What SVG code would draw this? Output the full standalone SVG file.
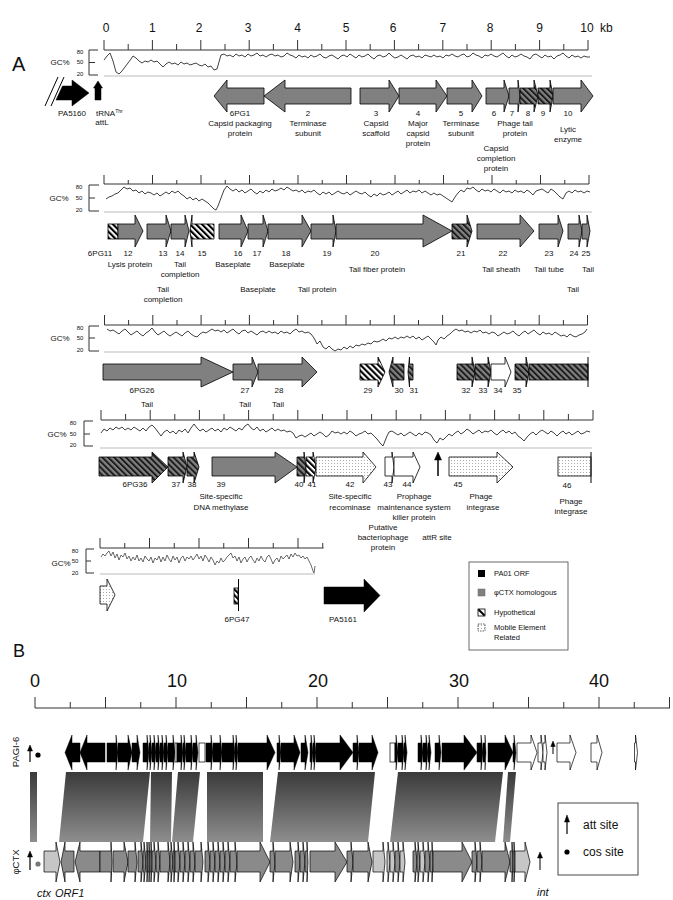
<svg xmlns="http://www.w3.org/2000/svg" width="673" height="900" viewBox="0 0 673 900">
<defs>
<pattern id="hb" patternUnits="userSpaceOnUse" width="4.2" height="4.2" patternTransform="rotate(-45)"><rect width="4.2" height="4.2" fill="#fff"/><rect width="2.1" height="4.2" fill="#000"/></pattern>
<pattern id="hg" patternUnits="userSpaceOnUse" width="4.2" height="4.2" patternTransform="rotate(-45)"><rect width="4.2" height="4.2" fill="#7f7f7f"/><rect width="1.9" height="4.2" fill="#1a1a1a"/></pattern>
<pattern id="dt" patternUnits="userSpaceOnUse" width="3" height="3"><rect width="3" height="3" fill="#fff"/><circle cx="1.5" cy="1.5" r="0.45" fill="#555"/></pattern>
<linearGradient id="syn" x1="0" y1="0" x2="0" y2="1"><stop offset="0" stop-color="#3a3a3a"/><stop offset="1" stop-color="#8e8e8e"/></linearGradient>
</defs>
<style>
text{font-family:"Liberation Sans",Arial,sans-serif;fill:#111}
.s8{font-size:8px;text-anchor:middle}
.s6{font-size:6px;text-anchor:middle}
.n12{font-size:12px;text-anchor:middle}
.n18{font-size:18px;text-anchor:middle}
.lg{font-size:7.5px}
.it{font-size:11px;font-style:italic}
.g{fill:#808080;stroke:#000;stroke-width:0.8}
.hg{fill:url(#hg);stroke:#000;stroke-width:0.8}
.hb{fill:url(#hb);stroke:#000;stroke-width:0.8}
.dt{fill:url(#dt);stroke:#000;stroke-width:0.8}
.w{fill:#fff;stroke:#000;stroke-width:0.8}
.k{fill:#000;stroke:#000;stroke-width:0.5}
.gb{fill:#8a8a8a;stroke:#000;stroke-width:0.7}
.lb{fill:#c6c6c6;stroke:#000;stroke-width:0.7}
.kb{fill:#000;stroke:#000;stroke-width:0.5}
.wb{fill:#fff;stroke:#000;stroke-width:0.7}
.rul{fill:none;stroke:#333;stroke-width:1}
.base{fill:none;stroke:#bbb;stroke-width:1}
.tr{fill:none;stroke:#111;stroke-width:0.8}
.ln{stroke:#000;stroke-width:1;fill:none}
</style>
<rect width="673" height="900" fill="#fff"/>

<text x="12" y="71" style="font-size:20px">A</text>

<!-- ROW 1 -->
<g id="row1-axis">
<path class="rul" d="M104,50H588 M104,40V50 M152.4,40V50 M200.8,40V50 M249.2,40V50 M297.6,40V50 M346,40V50 M394.4,40V50 M442.8,40V50 M491.2,40V50 M539.6,40V50 M588,40V50 M128.2,44V50 M176.6,44V50 M225,44V50 M273.4,44V50 M321.8,44V50 M370.2,44V50 M418.6,44V50 M467,44V50 M515.4,44V50 M563.8,44V50"/>
<text class="n12" x="106" y="32">0</text><text class="n12" x="152.4" y="32">1</text><text class="n12" x="199" y="32">2</text><text class="n12" x="248" y="32">3</text><text class="n12" x="297.6" y="32">4</text><text class="n12" x="346" y="32">5</text><text class="n12" x="393" y="32">6</text><text class="n12" x="442.8" y="32">7</text><text class="n12" x="490" y="32">8</text><text class="n12" x="539.6" y="32">9</text><text class="n12" x="587" y="32">10</text><text x="600" y="32" style="font-size:12px">kb</text>
<path class="rul" d="M98,50H89V75H98 M89,62.5H95"/>
<text class="s6" x="80" y="54">80</text><text class="s6" x="80" y="64">50</text><text class="s6" x="80" y="76">20</text>
<text class="s8" x="60" y="65">GC%</text>
<path class="base" d="M104,76H592"/>
<polyline class="tr" points="104,60 107,56 110,53 113,61 116,72 119,74 122,71 125,67 128,63 131,59 133,56 136,58 139,61 142,63 145,61 148,62 151,60 154,62 157,61 160,64 163,67 166,64 169,62 172,64 175,63 178,65 181,62 184,64 187,63 190,65 193,64 196,63 199,65 202,66 205,64 208,67 211,66 214,70 217,69 219,62 221,55 224,54 227,56 230,55 233,57 236,54 239,56 242,55 245,57 248,54 251,56 254,55 257,53 260,56 263,55 266,57 269,55 272,54 275,56 278,55 281,57 284,56 287,53 290,55 293,56 296,58 299,55 302,57 305,56 308,58 311,55 314,57 317,56 320,54 323,57 326,58 329,56 332,55 335,57 338,59 341,56 344,55 347,57 350,54 353,56 356,58 359,55 362,57 365,56 368,54 371,57 374,59 377,56 380,55 383,57 386,56 389,53 392,56 395,58 398,57 401,55 404,57 407,59 410,56 413,55 416,57 419,56 422,58 425,55 428,56 431,57 434,55 437,57 440,56 443,58 446,55 449,56 452,54 455,56 458,57 461,55 464,54 467,57 470,56 473,53 476,55 479,56 482,58 485,55 488,56 491,54 494,56 497,57 500,55 503,53 506,56 509,58 512,55 515,57 518,56 521,54 524,56 527,57 530,59 533,55 536,54 539,56 542,58 545,55 548,57 551,56 554,59 557,56 560,55 563,53 566,56 569,58 572,55 575,57 578,56 581,58 584,56 587,57 590,57"/>
</g>
<g id="PA5160">
<path class="ln" d="M45,106L58,77 M51,106L64,77"/>
<polygon class="k" points="56,100 62.5,86 72,86 72,80 89,93 72,106 72,100"/>
<text class="s8" x="72" y="116">PA5160</text>
</g>
<g id="tRNA">
<polygon class="k" points="93.5,88 98,81 102.5,88 101,88 101,100 95,100 95,88"/>
<text x="96" y="116" style="font-size:8px">tRNA<tspan dy="-3" style="font-size:5px">Thr</tspan></text>
<text class="s8" x="102" y="125">attL</text>
</g>
<g id="g6PG1"><polygon class="g" points="214,96 227,80 227,88 264,88 264,104 227,104 227,112"/><text class="s8" x="240" y="116">6PG1</text><text class="s8" x="240" y="126">Capsid packaging</text><text class="s8" x="240" y="136">protein</text></g>
<g id="g2"><polygon class="g" points="264,96 285,80 285,88 351,88 351,104 285,104 285,112"/><text class="s8" x="308" y="116">2</text><text class="s8" x="308" y="126">Terminase</text><text class="s8" x="308" y="136">subunit</text></g>
<g id="g3"><polygon class="g" points="360,88 389,88 389,80 399,96 389,112 389,104 360,104"/><text class="s8" x="376" y="116">3</text><text class="s8" x="376" y="126">Capsid</text><text class="s8" x="376" y="136">scaffold</text></g>
<g id="g4"><polygon class="g" points="399,88 436,88 436,80 447,96 436,112 436,104 399,104"/><text class="s8" x="418" y="116">4</text><text class="s8" x="418" y="126">Major</text><text class="s8" x="418" y="136">capsid</text><text class="s8" x="418" y="146">protein</text></g>
<g id="g5"><polygon class="g" points="447,88 472,88 472,80 482,96 472,112 472,104 447,104"/><text class="s8" x="461" y="116">5</text><text class="s8" x="461" y="126">Terminase</text><text class="s8" x="461" y="136">subunit</text></g>
<g id="g6"><polygon class="g" points="486,88 504,88 504,80 509,96 504,112 504,104 486,104"/><text class="s8" x="494" y="116">6</text><text class="s8" x="496" y="151">Capsid</text><text class="s8" x="496" y="161">completion</text><text class="s8" x="496" y="171">protein</text></g>
<g id="g7"><polygon class="g" points="509,88 518,88 518,80 520,96 518,112 518,104 509,104"/><text class="s8" x="512" y="116">7</text><text class="s8" x="515" y="126">Phage tail</text><text class="s8" x="515" y="136">protein</text></g>
<g id="g8"><polygon class="hg" points="520,88 534,88 534,80 538,96 534,112 534,104 520,104"/><text class="s8" x="528" y="116">8</text></g>
<g id="g9"><polygon class="hg" points="538,88 550,88 550,80 553,96 550,112 550,104 538,104"/><text class="s8" x="543" y="116">9</text></g>
<g id="g10"><polygon class="g" points="553,88 581,88 581,80 593,96 581,112 581,104 553,104"/><text class="s8" x="568" y="116">10</text><text class="s8" x="568" y="132">Lytic</text><text class="s8" x="568" y="142">enzyme</text></g>

<!-- ROW 2 -->
<g id="row2-axis">
<path class="rul" d="M104,184H589 M104,175V184 M152.5,175V184 M201,175V184 M249.5,175V184 M298,175V184 M346.5,175V184 M395,175V184 M443.5,175V184 M492,175V184 M540.5,175V184 M589,175V184 M128.25,180V184 M176.75,180V184 M225.25,180V184 M273.75,180V184 M322.25,180V184 M370.75,180V184 M419.25,180V184 M467.75,180V184 M516.25,180V184 M564.75,180V184"/>
<path class="rul" d="M99,185H89V211H99 M89,198H95"/>
<text class="s6" x="79" y="189">80</text><text class="s6" x="79" y="200">50</text><text class="s6" x="79" y="212">20</text>
<text class="s8" x="59" y="201">GC%</text>
<path class="base" d="M104,212H592"/>
<polyline class="tr" points="106,199 109,197 112,196 115,194 118,193 121,190 124,187 127,189 130,188 133,191 136,190 139,193 142,191 145,194 148,192 151,193 154,195 157,193 160,196 163,194 166,192 169,194 172,191 175,193 178,191 181,194 184,196 187,199 190,197 193,200 196,198 199,201 202,199 205,201 208,203 211,206 214,209 216,210 218,206 221,198 224,190 227,186 230,189 233,191 236,189 239,192 242,190 245,193 248,191 251,189 254,192 257,194 260,191 263,193 266,190 269,192 272,189 275,191 278,190 281,188 284,190 287,187 290,189 293,191 296,190 299,192 302,190 305,193 308,191 311,192 314,190 317,193 320,195 323,192 326,194 329,192 332,195 335,193 338,191 341,193 344,194 347,192 350,195 353,193 356,191 359,193 362,194 365,192 368,195 371,197 374,194 377,196 380,193 383,195 386,194 389,192 392,195 395,193 398,191 401,194 404,192 407,190 410,193 413,191 416,192 419,190 422,193 425,191 428,193 431,195 434,193 437,195 440,194 443,196 446,198 449,200 452,202 455,197 458,193 461,190 464,192 467,188 470,189 473,187 476,190 479,192 482,189 485,191 488,190 491,192 494,189 497,191 500,193 503,190 506,192 509,191 512,193 515,190 518,192 521,191 524,193 527,190 530,192 533,195 536,191 539,190 542,189 545,191 548,193 551,189 554,191 557,194 560,197 563,199 566,193 569,191 572,193 575,190 578,192 581,191 584,193 587,191 590,192"/>
</g>
<g id="g6PG11"><rect class="hb" x="108" y="224" width="10" height="15"/><text class="s8" x="100" y="256">6PG11</text></g>
<g id="g12"><polygon class="g" points="118,224 135,224 135,215 143,231 135,247 135,239 118,239"/><text class="s8" x="128" y="256">12</text><text class="s8" x="130" y="267">Lysis protein</text></g>
<g id="g13"><polygon class="g" points="147,224 166,224 166,215 171,231 166,247 166,239 147,239"/><text class="s8" x="163" y="256">13</text><text class="s8" x="163" y="292">Tail</text><text class="s8" x="163" y="302">completion</text></g>
<g id="g14"><polygon class="g" points="171,224 185,224 185,215 189,231 185,247 185,239 171,239"/><text class="s8" x="180" y="256">14</text><text class="s8" x="180" y="267">Tail</text><text class="s8" x="180" y="277">completion</text></g>
<g id="g15"><polygon class="hb" points="190,231 192,215 192,224 214,224 214,239 192,239 192,247"/><text class="s8" x="202" y="256">15</text></g>
<g id="g16"><polygon class="g" points="219,224 241,224 241,215 248,231 241,247 241,239 219,239"/><text class="s8" x="238" y="256">16</text><text class="s8" x="233" y="267">Baseplate</text></g>
<g id="g17"><polygon class="g" points="248,224 263,224 263,215 268,231 263,247 263,239 248,239"/><text class="s8" x="257" y="256">17</text><text class="s8" x="258" y="292">Baseplate</text></g>
<g id="g18"><polygon class="g" points="268,224 302,224 302,215 311,231 302,247 302,239 268,239"/><text class="s8" x="286" y="256">18</text><text class="s8" x="287" y="267">Baseplate</text></g>
<g id="g19"><polygon class="g" points="311,224 333,224 333,215 336,231 333,247 333,239 311,239"/><text class="s8" x="327" y="256">19</text><text class="s8" x="317" y="292">Tail protein</text></g>
<g id="g20"><polygon class="g" points="336,224 423,224 423,215 452,231 423,247 423,239 336,239"/><text class="s8" x="375" y="256">20</text><text class="s8" x="377" y="272">Tail fiber protein</text></g>
<g id="g21"><polygon class="hg" points="452,224 467,224 467,215 472,231 467,247 467,239 452,239"/><text class="s8" x="461" y="256">21</text></g>
<g id="g22"><polygon class="g" points="477,224 520,224 520,215 534,231 520,247 520,239 477,239"/><text class="s8" x="503" y="256">22</text><text class="s8" x="501" y="272">Tail sheath</text></g>
<g id="g23"><polygon class="g" points="539,224 558,224 558,215 563,231 558,247 558,239 539,239"/><text class="s8" x="549" y="256">23</text><text class="s8" x="549" y="272">Tail tube</text></g>
<g id="g24"><polygon class="g" points="568,224 579,224 579,215 582,231 579,247 579,239 568,239"/><text class="s8" x="574" y="256">24</text><text class="s8" x="573" y="292">Tail</text></g>
<g id="g25"><polygon class="g" points="582,224 587,224 587,215 590,231 587,247 587,239 582,239"/><text class="s8" x="586" y="256">25</text><text class="s8" x="588" y="272">Tail</text></g>

<!-- ROW 3 -->
<g id="row3-axis">
<path class="rul" d="M104.5,325H587.5 M104.5,315V325 M152.8,315V325 M201.1,315V325 M249.4,315V325 M297.7,315V325 M346,315V325 M394.3,315V325 M442.6,315V325 M490.9,315V325 M539.2,315V325 M587.5,315V325 M128.6,320V325 M177,320V325 M225.3,320V325 M273.6,320V325 M321.9,320V325 M370.2,320V325 M418.5,320V325 M466.8,320V325 M515.1,320V325 M563.4,320V325"/>
<path class="rul" d="M99,326H89V351H99 M89,338H95"/>
<text class="s6" x="80" y="330">80</text><text class="s6" x="80" y="340">50</text><text class="s6" x="80" y="352">20</text>
<text class="s8" x="60" y="341">GC%</text>
<path class="base" d="M104,352H590"/>
<polyline class="tr" points="107,329 110,331 113,330 116,332 119,334 122,331 125,329 128,332 131,335 134,333 137,331 140,334 143,336 146,333 149,331 152,328 155,332 158,335 161,333 164,331 167,334 170,336 173,334 176,332 179,334 182,336 185,333 188,331 191,334 194,336 197,337 200,334 203,332 206,333 209,331 212,329 215,331 218,330 221,332 224,330 227,333 230,331 233,329 236,332 239,334 242,331 245,330 248,333 251,331 254,333 257,335 260,332 263,331 266,333 269,331 272,333 275,332 278,334 281,331 284,333 287,332 290,334 293,331 296,329 299,332 302,331 305,333 308,332 311,334 314,338 317,344 320,341 323,347 326,349 329,346 332,349 335,351 338,349 341,350 344,347 347,349 350,346 353,348 356,345 359,346 362,344 365,345 368,343 371,344 374,341 377,342 380,341 383,339 386,341 389,338 392,339 395,337 398,339 401,337 404,338 407,336 410,338 413,336 416,339 419,337 422,340 425,338 428,336 431,339 434,342 436,345 438,340 441,337 444,339 447,336 450,334 453,331 456,329 459,331 462,330 465,332 468,331 471,333 474,331 477,332 480,330 483,333 486,332 489,334 492,332 495,333 498,336 501,334 504,332 507,334 510,333 513,331 516,334 519,336 522,333 525,331 528,334 531,332 534,330 537,333 540,335 543,332 546,334 549,333 552,335 555,332 558,334 561,336 564,335 567,337 570,334 573,336 576,337 579,335 582,334 585,332 587,329"/>
</g>
<g id="g6PG26"><polygon class="g" points="103,364 201,364 201,357 233,372 201,387 201,380 103,380"/><text class="s8" x="142" y="393">6PG26</text><text class="s8" x="147" y="407">Tail</text></g>
<g id="g27"><polygon class="g" points="233,364 252,364 252,357 258,372 252,387 252,380 233,380"/><text class="s8" x="245" y="393">27</text><text class="s8" x="245" y="407">Tail</text></g>
<g id="g28"><polygon class="g" points="258,364 302,364 302,357 317,372 302,387 302,380 258,380"/><text class="s8" x="279" y="393">28</text><text class="s8" x="278" y="407">Tail</text></g>
<g id="g29"><polygon class="hb" points="360,364 378,364 378,357 385,372 378,387 378,380 360,380"/><text class="s8" x="368" y="393">29</text></g>
<g id="g30"><polygon class="hg" points="389,372 393,357 393,364 404,364 404,380 393,380 393,387"/><text class="s8" x="399" y="393">30</text></g>
<g id="g31"><polygon class="hg" points="408,372 409.5,357 409.5,364 413,364 413,380 409.5,380 409.5,387"/><text class="s8" x="414" y="393">31</text></g>
<g id="g32"><polygon class="hg" points="457,364 472,364 472,357 475,372 472,387 472,380 457,380"/><text class="s8" x="466" y="393">32</text></g>
<g id="g33"><polygon class="hg" points="475,364 488,364 488,357 491,372 488,387 488,380 475,380"/><text class="s8" x="483" y="393">33</text></g>
<g id="g34"><polygon class="w" points="491,364 505,364 505,357 511,372 505,387 505,380 491,380"/><text class="s8" x="498" y="393">34</text></g>
<g id="g35"><polygon class="hg" points="515,364 526,364 526,357 529,372 526,387 526,380 515,380"/><rect class="hg" x="529" y="364" width="59" height="16"/><path class="ln" d="M588,357V387"/><text class="s8" x="517" y="393">35</text></g>

<!-- ROW 4 -->
<g id="row4-axis">
<path class="rul" d="M101,420H593 M101,410V420 M150.2,410V420 M199.4,410V420 M248.6,410V420 M297.8,410V420 M347,410V420 M396.2,410V420 M445.4,410V420 M494.6,410V420 M543.8,410V420 M593,410V420 M125.6,414V420 M174.8,414V420 M224,414V420 M273.2,414V420 M322.4,414V420 M371.6,414V420 M420.8,414V420 M470,414V420 M519.2,414V420 M568.4,414V420"/>
<path class="rul" d="M93,421H84V446H93 M84,434H90"/>
<text class="s6" x="73" y="425">80</text><text class="s6" x="73" y="436">50</text><text class="s6" x="73" y="447">20</text>
<text class="s8" x="57" y="437">GC%</text>
<path class="base" d="M100,448H592"/>
<polyline class="tr" points="101,433 104,429 107,431 110,428 113,430 116,427 119,429 122,427 125,430 128,428 131,430 134,427 137,429 140,431 143,428 146,431 149,427 152,425 155,428 158,432 161,436 164,432 167,430 170,433 173,431 176,434 179,430 182,432 185,429 188,433 191,428 194,424 197,428 200,431 203,429 206,432 209,430 212,428 215,431 218,429 221,432 224,428 227,430 230,427 233,429 236,431 239,428 242,430 245,426 248,424 251,428 254,430 257,427 260,431 263,429 266,432 269,430 272,428 275,431 278,429 281,431 284,430 287,432 290,431 293,433 296,438 299,436 302,435 305,437 308,435 311,433 314,436 317,434 320,432 323,434 326,437 329,435 332,431 335,433 338,432 341,434 344,432 347,434 350,431 353,433 356,436 359,434 362,433 365,431 368,434 371,433 374,436 377,439 380,443 383,446 385,441 387,436 389,432 392,431 395,433 398,435 401,433 404,436 407,434 410,432 413,434 416,436 419,433 422,435 425,432 428,433 431,435 434,440 437,443 440,438 443,440 446,437 449,434 452,436 455,433 458,431 461,434 464,432 467,429 470,431 473,434 476,432 479,430 482,433 485,431 488,432 491,430 494,433 497,435 500,432 503,430 506,433 509,431 512,434 515,432 518,436 521,438 524,441 527,437 530,434 533,432 536,435 539,432 542,430 545,432 548,434 551,431 554,433 557,436 560,433 563,431 566,434 569,432 572,435 575,433 578,431 581,434 584,433 587,431 590,432"/>
</g>
<g id="g6PG36"><polygon class="hg" points="99,457 152,457 152,452 168,467 152,483 152,476 99,476"/><text class="s8" x="135" y="487">6PG36</text></g>
<g id="g37"><polygon class="hg" points="168,457 183,457 183,452 187,467 183,483 183,476 168,476"/><text class="s8" x="176" y="487">37</text></g>
<g id="g38"><polygon class="hg" points="187,457 194,457 194,452 199,467 194,483 194,476 187,476"/><text class="s8" x="192" y="487">38</text></g>
<g id="g39"><polygon class="g" points="212,457 275,457 275,452 297,467 275,483 275,476 212,476"/><text class="s8" x="221" y="487">39</text><text class="s8" x="221" y="499">Site-specific</text><text class="s8" x="221" y="510">DNA methylase</text></g>
<g id="g40"><polygon class="hg" points="297,457 304,457 304,452 306,467 304,483 304,476 297,476"/><text class="s8" x="299" y="487">40</text></g>
<g id="g41"><polygon class="hb" points="306,457 313,457 313,452 316,467 313,483 313,476 306,476"/><text class="s8" x="312" y="487">41</text></g>
<g id="g42"><polygon class="dt" points="316,457 363,457 363,452 376,467 363,483 363,476 316,476"/><text class="s8" x="350" y="487">42</text><text class="s8" x="350" y="499">Site-specific</text><text class="s8" x="350" y="510">recominase</text></g>
<g id="g43"><polygon class="w" points="385,457 392,457 392,452 394,467 392,483 392,476 385,476"/><text class="s8" x="388" y="487">43</text><text class="s8" x="383" y="530">Putative</text><text class="s8" x="383" y="540">bacteriophage</text><text class="s8" x="383" y="550">protein</text></g>
<g id="g44"><polygon class="w" points="394,457 413,457 413,452 420,467 413,483 413,476 394,476"/><text class="s8" x="407" y="487">44</text><text class="s8" x="414" y="499">Prophage</text><text class="s8" x="414" y="510">maintenance system</text><text class="s8" x="414" y="520">killer protein</text></g>
<g id="attR"><path class="ln" d="M438,476V458" style="stroke-width:1.5"/><polygon class="k" points="434.5,460 438,452 441.5,460"/><text class="s8" x="437" y="540">attR site</text></g>
<g id="g45"><polygon class="dt" points="449,457 497,457 497,452 513,467 497,483 497,476 449,476"/><text class="s8" x="458" y="487">45</text><text class="s8" x="481" y="499">Phage</text><text class="s8" x="483" y="510">integrase</text></g>
<g id="g46"><rect class="dt" x="558" y="457" width="33" height="19"/><path class="ln" d="M591,452V483"/><text class="s8" x="567" y="488">46</text><text class="s8" x="571" y="504">Phage</text><text class="s8" x="571" y="514">integrase</text></g>

<!-- ROW 5 -->
<g id="row5-axis">
<path class="rul" d="M100,548H323.5 M100,538V548 M149.5,538V548 M199,538V548 M248.5,538V548 M298,538V548 M124.75,543V548 M174.25,543V548 M223.75,543V548 M273.25,543V548 M322.75,543V548"/>
<path class="rul" d="M94,549H86V573H94 M86,561H91"/>
<text class="s6" x="75" y="553">80</text><text class="s6" x="75" y="563">50</text><text class="s6" x="75" y="575">20</text>
<text class="s8" x="61" y="566">GC%</text>
<path class="base" d="M100,574H315"/>
<polyline class="tr" style="stroke:#444" points="101,557 103,554 105,556 107,553 109,551 111,556 113,552 115,558 117,554 119,560 121,555 123,557 125,553 127,559 129,556 131,561 133,557 135,560 137,555 139,561 141,558 143,562 145,556 147,559 149,561 151,557 153,563 155,558 157,560 159,556 161,562 163,557 165,561 167,555 169,559 171,562 173,556 175,560 177,557 179,563 181,558 183,556 185,561 187,557 189,559 191,556 193,560 195,557 197,554 199,559 201,556 203,561 205,555 207,558 209,562 211,557 213,560 215,565 217,561 219,563 221,558 223,562 225,560 227,557 229,555 231,553 233,558 235,556 237,561 239,557 241,563 243,559 245,557 247,562 249,558 251,556 253,560 255,563 257,558 259,561 261,556 263,560 265,562 267,557 269,555 271,559 273,564 275,560 277,558 279,562 281,556 283,559 285,557 287,555 289,559 291,554 293,557 295,553 297,556 299,555 301,558 303,556 305,559 307,557 309,561 311,565 313,571 314,573 315,566"/>
</g>
<g id="g47a"><polygon class="dt" points="100,586 107,586 107,579 115,595 107,611 107,604 100,604"/></g>
<g id="g6PG47"><rect class="hb" x="234" y="588" width="4" height="16"/><path class="ln" d="M238.5,579V611"/><text class="s8" x="237" y="622">6PG47</text></g>
<g id="PA5161"><polygon class="k" points="324,587 364,587 364,579 380,595.5 364,612 364,604 324,604"/><text class="s8" x="343" y="622">PA5161</text></g>

<g id="legendA">
<rect x="469" y="562" width="99" height="88" fill="#fff" stroke="#444" stroke-width="0.8"/>
<rect x="478" y="570" width="7" height="7" fill="#000"/><text class="lg" x="494" y="576">PA01 ORF</text>
<rect x="478" y="589" width="7" height="7" fill="#808080" stroke="#666" stroke-width="0.5"/><text class="lg" x="494" y="595">φCTX homologous</text>
<rect x="478" y="609" width="7" height="7" fill="#fff" stroke="#000" stroke-width="0.8"/><path d="M478.5,609.5L484.5,615.5" stroke="#000" stroke-width="2"/><text class="lg" x="494" y="615">Hypothetical</text>
<rect x="478" y="624" width="7" height="7" fill="url(#dt)" stroke="#000" stroke-width="0.6" stroke-dasharray="1.5,1"/><text class="lg" x="494" y="630">Mobile Element</text><text class="lg" x="494" y="640">Related</text>
</g>

<!-- PANEL B -->
<text x="13" y="657" style="font-size:18px">B</text>
<g id="B-axis">
<path class="rul" d="M35,708H670 M35,697V708 M70.25,702V708 M105.5,697V708 M140.75,702V708 M176,697V708 M211.25,702V708 M246.5,697V708 M281.75,702V708 M317,697V708 M352.25,702V708 M387.5,697V708 M422.75,702V708 M458,697V708 M493.25,702V708 M528.5,697V708 M563.75,702V708 M599,697V708 M634.25,702V708 M669.5,697V708"/>
<text class="n18" x="35" y="687">0</text><text class="n18" x="177" y="687">10</text><text class="n18" x="318" y="687">20</text><text class="n18" x="459" y="687">30</text><text class="n18" x="599" y="687">40</text>
</g>
<g id="PAGI-6-label">
<text x="18.5" y="752" transform="rotate(-90 18.5 752)" style="font-size:9.5px;text-anchor:middle">PAGI-6</text>
<path class="ln" d="M30,762V750" style="stroke-width:1.2"/><polygon class="k" points="27.5,751 30,745 32.5,751"/>
<circle cx="38" cy="755" r="2.6" fill="#000"/>
</g>
<g id="PAGI-6">
<polygon class="kb" points="65,752.5 72,735 72,743 80,743 80,762 72,762 72,770"/>
<polygon class="kb" points="80,752.5 87,735 87,743 105,743 105,762 87,762 87,770"/>
<polygon class="kb" points="107,743 116,743 116,735 118,752.5 116,770 116,762 107,762"/>
<polygon class="kb" points="118,743 128,743 128,735 132,752.5 128,770 128,762 118,762"/>
<polygon class="kb" points="132,743 137,743 137,735 140,752.5 137,770 137,762 132,762"/>
<polygon class="kb" points="143,743 147,743 147,735 149,752.5 147,770 147,762 143,762"/>
<polygon class="kb" points="149,743 150,743 150,735 152,752.5 150,770 150,762 149,762"/>
<polygon class="kb" points="152,743 154,743 154,735 156,752.5 154,770 154,762 152,762"/>
<polygon class="kb" points="156,743 158,743 158,735 160,752.5 158,770 158,762 156,762"/>
<polygon class="kb" points="160,743 162,743 162,735 164,752.5 162,770 162,762 160,762"/>
<polygon class="kb" points="164,743 166,743 166,735 168,752.5 166,770 166,762 164,762"/>
<polygon class="kb" points="168,743 173,743 173,735 175,752.5 173,770 173,762 168,762"/>
<rect class="wb" x="175" y="743" width="2" height="19"/>
<polygon class="kb" points="177,743 181,743 181,735 183,752.5 181,770 181,762 177,762"/>
<polygon class="kb" points="183,743 184,743 184,735 186,752.5 184,770 184,762 183,762"/>
<polygon class="kb" points="186,743 191,743 191,735 193,752.5 191,770 191,762 186,762"/>
<polygon class="kb" points="193,743 196,743 196,735 198,752.5 196,770 196,762 193,762"/>
<rect class="wb" x="199" y="743" width="6" height="19"/>
<polygon class="kb" points="206,743 211,743 211,735 213,752.5 211,770 211,762 206,762"/>
<polygon class="kb" points="213,743 220,743 220,735 222,752.5 220,770 220,762 213,762"/>
<polygon class="kb" points="222,743 233,743 233,735 235,752.5 233,770 233,762 222,762"/>
<polygon class="kb" points="235,743 236,743 236,735 238,752.5 236,770 236,762 235,762"/>
<polygon class="kb" points="238,743 267,743 267,735 275,752.5 267,770 267,762 238,762"/>
<polygon class="kb" points="277,743 279,743 279,735 281,752.5 279,770 279,762 277,762"/>
<polygon class="kb" points="281,743 294,743 294,735 300,752.5 294,770 294,762 281,762"/>
<polygon class="kb" points="301,743 305,743 305,735 308,752.5 305,770 305,762 301,762"/>
<polygon class="kb" points="310,743 311,743 311,735 313,752.5 311,770 311,762 310,762"/>
<polygon class="kb" points="313,743 314,743 314,735 316,752.5 314,770 314,762 313,762"/>
<polygon class="kb" points="316,743 340,743 340,735 353,752.5 340,770 340,762 316,762"/>
<polygon class="kb" points="353,743 357,743 357,735 359,752.5 357,770 357,762 353,762"/>
<polygon class="kb" points="359,743 372,743 372,735 378,752.5 372,770 372,762 359,762"/>
<rect class="wb" x="390" y="743" width="5" height="19"/>
<polygon class="kb" points="395,743 396,743 396,735 398,752.5 396,770 396,762 395,762"/>
<polygon class="kb" points="398,743 402,743 402,735 404,752.5 402,770 402,762 398,762"/>
<polygon class="kb" points="404,743 405,743 405,735 407,752.5 405,770 405,762 404,762"/>
<polygon class="kb" points="418,743 421,743 421,735 423,752.5 421,770 421,762 418,762"/>
<polygon class="kb" points="423,743 426,743 426,735 428,752.5 426,770 426,762 423,762"/>
<polygon class="kb" points="428,743 429,743 429,735 431,752.5 429,770 429,762 428,762"/>
<polygon class="kb" points="435,743 439,743 439,735 441,752.5 439,770 439,762 435,762"/>
<polygon class="kb" points="442,743 464,743 464,735 477,752.5 464,770 464,762 442,762"/>
<polygon class="kb" points="477,743 481,743 481,735 483,752.5 481,770 481,762 477,762"/>
<polygon class="kb" points="483,743 485,743 485,735 486,752.5 485,770 485,762 483,762"/>
<polygon class="kb" points="488,743 505,743 505,735 513,752.5 505,770 505,762 488,762"/>
<polygon class="kb" points="513,743 514,743 514,735 516,752.5 514,770 514,762 513,762"/>
<polygon class="wb" points="517,743 531,743 531,735 537,752.5 531,770 531,762 517,762"/>
<polygon class="wb" points="538,743 541,743 541,735 543,752.5 541,770 541,762 538,762"/>
<polygon class="wb" points="543,743 545,743 545,735 547,752.5 545,770 545,762 543,762"/>
<path class="ln" d="M553,754V745"/><polygon class="k" points="550.8,746.5 553,741 555.2,746.5"/>
<polygon class="wb" points="557,743 570,743 570,735 576,752.5 570,770 570,762 557,762"/>
<polygon class="wb" points="591,743 597,743 597,735 602,752.5 597,770 597,762 591,762"/>
<polygon class="wb" points="634.5,743 635.5,743 635.5,735 637.5,752.5 635.5,770 635.5,762 634.5,762"/>
</g>
<g id="synteny">
<rect x="30" y="772" width="7" height="70" fill="url(#syn)"/>
<polygon fill="url(#syn)" points="66,772 150,772 143,842 59,842"/>
<polygon fill="url(#syn)" points="151,772 172,772 171,842 150,842"/>
<polygon fill="url(#syn)" points="178,772 200,772 193,842 172,842"/>
<polygon fill="url(#syn)" points="207,772 263,772 263,842 207,842"/>
<polygon fill="url(#syn)" points="278,772 375,772 368,842 270,842"/>
<polygon fill="url(#syn)" points="398,772 503,772 495,842 390,842"/>
<polygon fill="url(#syn)" points="508,772 516,772 510,842 503,842"/>
</g>
<g id="phiCTX-label">
<text x="18.5" y="862" transform="rotate(-90 18.5 862)" style="font-size:9.5px;text-anchor:middle">φCTX</text>
<path class="ln" d="M30,870V856" style="stroke-width:1.2"/><polygon class="k" points="27.5,857 30,851 32.5,857"/>
<circle cx="38" cy="864" r="2.6" fill="#777"/>
</g>
<g id="phiCTX">
<polygon class="lb" points="44,851 56,851 56,842 60,862 56,882 56,872 44,872"/>
<polygon class="gb" points="61,862 65,842 65,851 74,851 74,872 65,872 65,882"/>
<polygon class="gb" points="75,862 80,842 80,851 100,851 100,872 80,872 80,882"/>
<polygon class="gb" points="100,851 111,851 111,842 112,862 111,882 111,872 100,872"/>
<polygon class="gb" points="113,851 124,851 124,842 128,862 124,882 124,872 113,872"/>
<polygon class="gb" points="128,851 135,851 135,842 137,862 135,882 135,872 128,872"/>
<polygon class="gb" points="138,851 141,851 141,842 143,862 141,882 141,872 138,872"/>
<polygon class="gb" points="143,851 144,851 144,842 146,862 144,882 144,872 143,872"/>
<polygon class="gb" points="146,851 147,851 147,842 148,862 147,882 147,872 146,872"/>
<polygon class="gb" points="148,851 149,851 149,842 150,862 149,882 149,872 148,872"/>
<polygon class="gb" points="150,851 151,851 151,842 152,862 151,882 151,872 150,872"/>
<polygon class="gb" points="152,851 154,851 154,842 156,862 154,882 154,872 152,872"/>
<polygon class="gb" points="156,851 158,851 158,842 160,862 158,882 158,872 156,872"/>
<polygon class="gb" points="160,851 168,851 168,842 170,862 168,882 168,872 160,872"/>
<polygon class="gb" points="170,851 171,851 171,842 173,862 171,882 171,872 170,872"/>
<polygon class="gb" points="173,851 174,851 174,842 175,862 174,882 174,872 173,872"/>
<polygon class="gb" points="175,851 178,851 178,842 180,862 178,882 178,872 175,872"/>
<polygon class="gb" points="180,851 183,851 183,842 185,862 183,882 183,872 180,872"/>
<polygon class="gb" points="185,851 188,851 188,842 190,862 188,882 188,872 185,872"/>
<polygon class="gb" points="190,851 193,851 193,842 195,862 193,882 193,872 190,872"/>
<polygon class="gb" points="195,851 201,851 201,842 203,862 201,882 201,872 195,872"/>
<polygon class="gb" points="205,851 208,851 208,842 210,862 208,882 208,872 205,872"/>
<polygon class="gb" points="210,851 213,851 213,842 215,862 213,882 213,872 210,872"/>
<polygon class="gb" points="215,851 218,851 218,842 220,862 218,882 218,872 215,872"/>
<polygon class="gb" points="220,851 223,851 223,842 225,862 223,882 223,872 220,872"/>
<polygon class="gb" points="225,851 228,851 228,842 230,862 228,882 228,872 225,872"/>
<polygon class="gb" points="230,851 235,851 235,842 237,862 235,882 235,872 230,872"/>
<polygon class="gb" points="237,851 260,851 260,842 270,862 260,882 260,872 237,872"/>
<polygon class="gb" points="270,851 273,851 273,842 275,862 273,882 273,872 270,872"/>
<polygon class="gb" points="275,851 290,851 290,842 293,862 290,882 290,872 275,872"/>
<polygon class="gb" points="295,851 298,851 298,842 300,862 298,882 298,872 295,872"/>
<polygon class="gb" points="300,851 303,851 303,842 305,862 303,882 303,872 300,872"/>
<polygon class="gb" points="305,851 307,851 307,842 308,862 307,882 307,872 305,872"/>
<polygon class="gb" points="310,851 335,851 335,842 347,862 335,882 335,872 310,872"/>
<polygon class="gb" points="347,851 351,851 351,842 353,862 351,882 351,872 347,872"/>
<polygon class="gb" points="353,851 368,851 368,842 372,862 368,882 368,872 353,872"/>
<polygon class="lb" points="373,851 383,851 383,842 385,862 383,882 383,872 373,872"/>
<polygon class="lb" points="387,851 388,851 388,842 390,862 388,882 388,872 387,872"/>
<polygon class="lb" points="390,851 393,851 393,842 395,862 393,882 393,872 390,872"/>
<polygon class="gb" points="395,851 398,851 398,842 400,862 398,882 398,872 395,872"/>
<polygon class="lb" points="400,851 403,851 403,842 405,862 403,882 403,872 400,872"/>
<polygon class="gb" points="413,851 415,851 415,842 417,862 415,882 415,872 413,872"/>
<polygon class="gb" points="417,851 418,851 418,842 420,862 418,882 418,872 417,872"/>
<polygon class="lb" points="420,851 423,851 423,842 425,862 423,882 423,872 420,872"/>
<polygon class="gb" points="425,851 428,851 428,842 430,862 428,882 428,872 425,872"/>
<polygon class="gb" points="430,851 432,851 432,842 433,862 432,882 432,872 430,872"/>
<polygon class="gb" points="433,851 462,851 462,842 472,862 462,882 462,872 433,872"/>
<polygon class="gb" points="472,851 475,851 475,842 477,862 475,882 475,872 472,872"/>
<polygon class="gb" points="477,851 480,851 480,842 482,862 480,882 480,872 477,872"/>
<polygon class="gb" points="482,851 505,851 505,842 510,862 505,882 505,872 482,872"/>
<polygon class="gb" points="510,851 512,851 512,842 513,862 512,882 512,872 510,872"/>
<polygon class="gb" points="513,851 514,851 514,842 515,862 514,882 514,872 513,872"/>
<polygon class="lb" points="515,851 525,851 525,842 530,862 525,882 525,872 515,872"/>
<path class="ln" d="M540,870V857"/><polygon class="k" points="537.5,858 540,852 542.5,858"/>
<text class="it" x="37" y="897">ctx</text><text class="it" x="55" y="897">ORF1</text>
<text class="it" x="537" y="896">int</text>
</g>
<g id="legendB">
<rect x="558" y="803" width="80" height="72" fill="#fff" stroke="#333" stroke-width="0.9"/>
<path class="ln" d="M567,834V820" style="stroke-width:1.2"/><polygon class="k" points="564.5,822 567,815 569.5,822"/>
<text x="583" y="829" style="font-size:12px">att site</text>
<circle cx="567" cy="852" r="2.6" fill="#000"/>
<text x="583" y="856" style="font-size:12px">cos site</text>
</g>
</svg>
